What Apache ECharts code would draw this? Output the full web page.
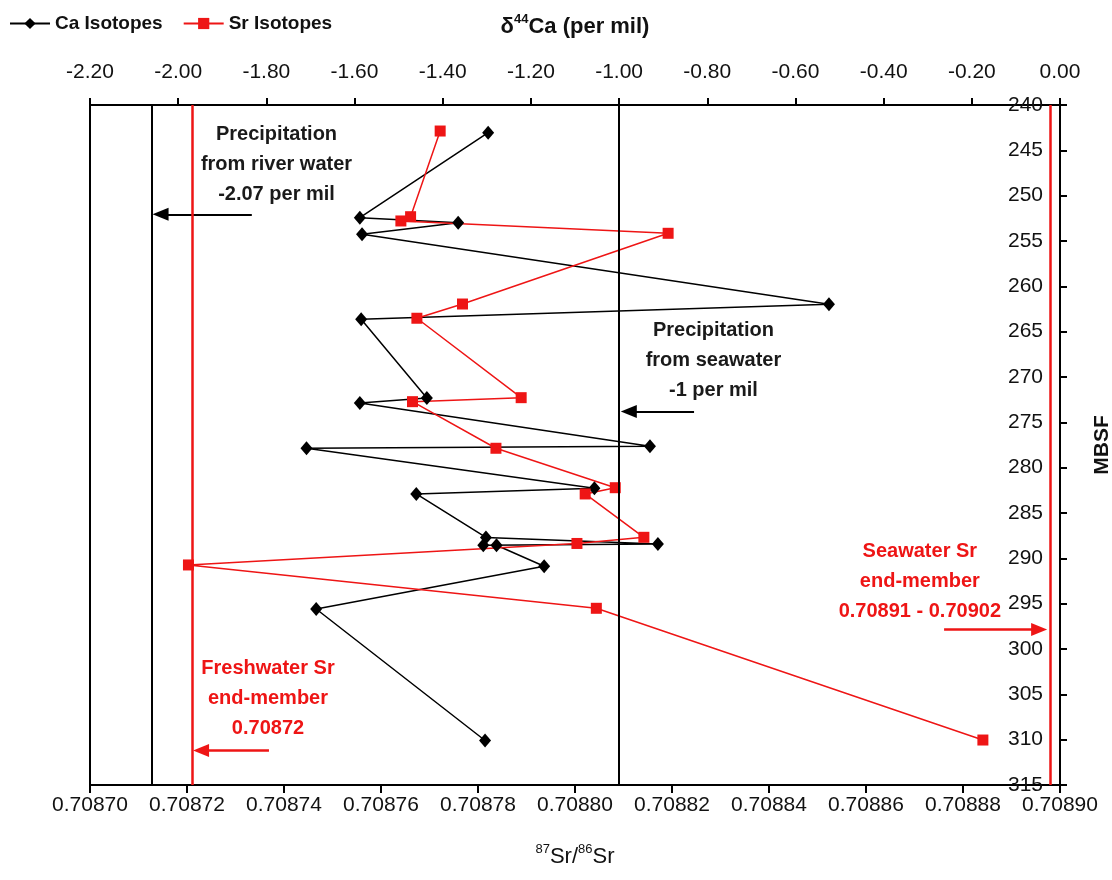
<!DOCTYPE html>
<html>
<head>
<meta charset="utf-8">
<script src="https://cdn.jsdelivr.net/npm/echarts/dist/echarts.min.js"></script>
<style>
html,body{margin:0;padding:0;background:#fff;}
#chart{width:1112px;height:880px;}
</style>
</head>
<body>
<div id="chart"></div>
<script>
// ---- Data ----
const seriesNames = ['Ca Isotopes', 'Sr Isotopes'];

// Ca isotopes: depth (MBSF) and delta44Ca (per mil)
const caDepth = [243.05, 252.43, 252.98, 254.26, 261.98, 263.62, 272.32, 272.87, 277.63, 277.86,
                 282.27, 282.90, 287.70, 288.42, 288.55, 288.56, 290.87, 295.59, 310.09];
const caDelta = [-1.297, -1.588, -1.365, -1.583, -0.524, -1.585, -1.436, -1.588, -0.930, -1.709,
                 -1.056, -1.460, -1.302, -0.912, -1.308, -1.278, -1.170, -1.687, -1.304];

// Sr isotopes: depth (MBSF) and 87Sr/86Sr
const srDepth = [242.87, 252.32, 252.79, 254.15, 261.95, 263.52, 272.28, 272.72, 277.86, 282.21,
                 282.90, 287.68, 288.36, 290.73, 295.51, 310.04];
const srRatio = [0.7087722, 0.7087661, 0.7087641, 0.7088192, 0.7087768, 0.7087674, 0.7087889, 0.7087665,
                 0.7087837, 0.7088083, 0.7088021, 0.7088142, 0.7088004, 0.7087203, 0.7088044, 0.7088841];

// Axis ranges / ticks
const srAxis = {min: 0.70870, max: 0.70890, interval: 0.00002};
const caAxis = {min: -2.2, max: 0, interval: 0.2};
const depthAxis = {min: 240, max: 315, interval: 5};

// Reference lines
const riverCa = -2.06;        // precipitation from river water
const seawaterCa = -1.00;     // precipitation from seawater
const freshSr = 0.708721;     // freshwater Sr end-member
const seaSrEdge = 0.708898;   // seawater Sr end-member (off scale, drawn at edge)

// Arrows: [from, to, depth]
const riverArrow = [-1.833, -2.04, 252.05];
const seaCaArrow = [-0.830, -0.978, 273.8];
const freshArrow = [0.7087369, 0.7087229, 311.2];
const seaSrArrow = [0.7088761, 0.7088957, 297.85];

// Annotation texts: [x, depth, text]
const riverNote = [-1.777, 246.6, 'Precipitation\nfrom river water\n-2.07 per mil'];
const seaCaNote = [-0.786, 268.2, 'Precipitation\nfrom seawater\n-1 per mil'];
const freshNote = [0.7087367, 305.5, 'Freshwater Sr\nend-member\n0.70872'];
const seaSrNote = [0.7088711, 292.6, 'Seawater Sr\nend-member\n0.70891 - 0.70902'];

// ---- Chart ----
const RED = '#ee1515';
const BLACK = '#000';
const FONT = "'Liberation Sans', Arial, sans-serif";

const chart = echarts.init(document.getElementById('chart'), null, {renderer: 'canvas'});

function note(n, color) {
  return {
    coord: [n[0], n[1]], symbol: 'circle', symbolSize: 0,
    label: {show: true, position: 'inside', formatter: n[2], color: color,
      fontFamily: FONT, fontSize: 20, fontWeight: 'bold', lineHeight: 30, align: 'center'}
  };
}
function arrow(a) {
  return [{coord: [a[0], a[2]], symbol: 'none'}, {coord: [a[1], a[2]], symbol: 'triangle'}];
}

const axisLabelStyle = {fontFamily: FONT, fontSize: 21, color: '#111'};

const option = {
  animation: false,
  backgroundColor: '#fff',
  legend: {
    data: seriesNames, left: 4, top: 9, itemWidth: 40, itemHeight: 14, itemGap: 20,
    textStyle: {fontFamily: FONT, fontSize: 19, fontWeight: 'bold', color: '#111'}
  },
  grid: {left: 90, right: 52, top: 105, bottom: 95, show: true, borderColor: BLACK, borderWidth: 2,
         containLabel: false, outerBoundsMode: 'none'},
  xAxis: [
    {
      type: 'value', position: 'bottom', min: srAxis.min, max: srAxis.max, interval: srAxis.interval,
      axisLine: {show: true, onZero: false, lineStyle: {color: BLACK, width: 2}},
      axisTick: {show: true, length: 8, lineStyle: {color: BLACK, width: 2}},
      splitLine: {show: false},
      axisLabel: Object.assign({margin: 10, formatter: v => v.toFixed(5)}, axisLabelStyle),
      name: '{sup|87}{b|Sr/}{sup|86}{b|Sr}', nameLocation: 'middle', nameGap: 58,
      nameTextStyle: {rich: {
        b: {fontFamily: FONT, fontSize: 22, color: '#111', lineHeight: 28},
        sup: {fontFamily: FONT, fontSize: 13, color: '#111', lineHeight: 14, verticalAlign: 'top'}
      }}
    },
    {
      type: 'value', position: 'top', min: caAxis.min, max: caAxis.max, interval: caAxis.interval,
      axisLine: {show: true, onZero: false, lineStyle: {color: BLACK, width: 2}},
      axisTick: {show: true, length: 7, lineStyle: {color: BLACK, width: 2}},
      splitLine: {show: false},
      axisLabel: Object.assign({margin: 22, formatter: v => v.toFixed(2)}, axisLabelStyle),
      name: '{b|δ}{sup|44}{b|Ca (per mil)}', nameLocation: 'middle', nameGap: 64,
      nameTextStyle: {rich: {
        b: {fontFamily: FONT, fontSize: 22, fontWeight: 'bold', color: '#111', lineHeight: 28},
        sup: {fontFamily: FONT, fontSize: 13, fontWeight: 'bold', color: '#111', lineHeight: 14, verticalAlign: 'top'}
      }}
    }
  ],
  yAxis: [{
    type: 'value', position: 'right', inverse: true,
    min: depthAxis.min, max: depthAxis.max, interval: depthAxis.interval,
    axisLine: {show: true, onZero: false, lineStyle: {color: BLACK, width: 2}},
    axisTick: {show: true, length: 7, lineStyle: {color: BLACK, width: 2}},
    splitLine: {show: false},
    axisLabel: Object.assign({inside: true, margin: 17}, axisLabelStyle),
    name: 'MBSF', nameLocation: 'middle', nameGap: 32, nameRotate: 90,
    nameTextStyle: {fontFamily: FONT, fontSize: 21, fontWeight: 'bold', color: '#111'}
  }],
  series: [
    {
      name: seriesNames[0], type: 'line', xAxisIndex: 1, yAxisIndex: 0,
      data: caDelta.map((d, i) => [d, caDepth[i]]),
      symbol: 'diamond', symbolSize: [12, 14],
      lineStyle: {color: BLACK, width: 1.5}, itemStyle: {color: BLACK},
      emphasis: {disabled: true},
      markLine: {
        silent: true, precision: 6, symbol: ['none', 'none'], symbolSize: [13, 16], label: {show: false},
        lineStyle: {color: BLACK, width: 2, type: 'solid'},
        data: [
          {xAxis: riverCa},
          {xAxis: seawaterCa},
          arrow(riverArrow),
          arrow(seaCaArrow)
        ]
      },
      markPoint: {silent: true, data: [note(riverNote, '#1a1a1a'), note(seaCaNote, '#1a1a1a')]}
    },
    {
      name: seriesNames[1], type: 'line', xAxisIndex: 0, yAxisIndex: 0,
      data: srRatio.map((r, i) => [r, srDepth[i]]),
      symbol: 'rect', symbolSize: 11,
      lineStyle: {color: RED, width: 1.5}, itemStyle: {color: RED},
      emphasis: {disabled: true},
      markLine: {
        silent: true, precision: 8, symbol: ['none', 'none'], symbolSize: [13, 16], label: {show: false},
        lineStyle: {color: RED, width: 2.5, type: 'solid'},
        data: [
          {xAxis: freshSr},
          {xAxis: seaSrEdge},
          arrow(freshArrow),
          arrow(seaSrArrow)
        ]
      },
      markPoint: {silent: true, data: [note(freshNote, RED), note(seaSrNote, RED)]}
    }
  ]
};
chart.setOption(option);
</script>
</body>
</html>
